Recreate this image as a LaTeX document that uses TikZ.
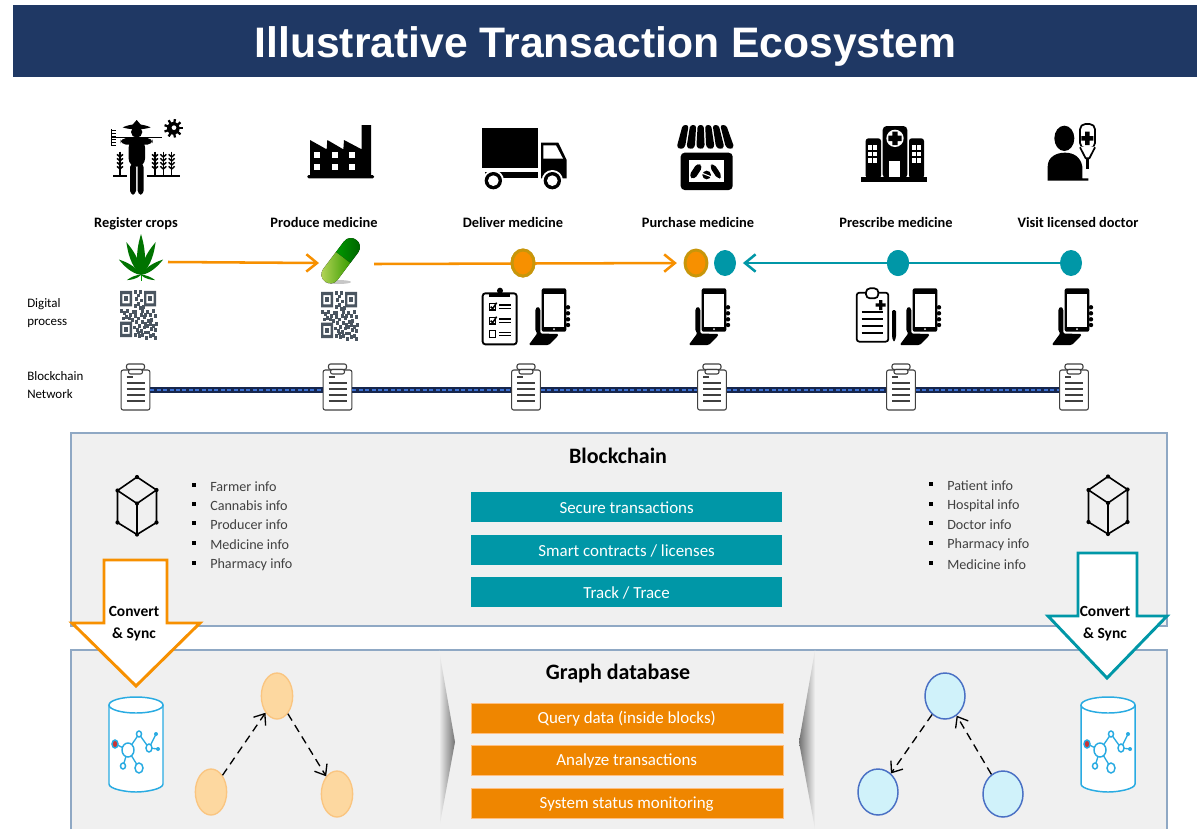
\documentclass[tikz,border=0pt]{standalone}
\usepackage{fontspec}
\setmainfont{Carlito}
\newfontfamily\titlefont{Liberation Sans}
\usetikzlibrary{arrows.meta,shapes.geometric,calc}
\definecolor{navy}{HTML}{1F3864}
\definecolor{teal}{HTML}{0097A7}
\definecolor{amber}{HTML}{F79000}
\definecolor{gold}{HTML}{C8960A}
\definecolor{barorange}{HTML}{EF8600}
\definecolor{panelfill}{HTML}{F0F0F0}
\definecolor{panelline}{HTML}{8FA8C4}
\definecolor{cylblue}{HTML}{29ABE2}
\definecolor{qrgrey}{HTML}{4A5560}
\definecolor{nodepeach}{HTML}{FDD8A0}
\definecolor{nodepeachline}{HTML}{FAC580}
\definecolor{nodesky}{HTML}{D0F2FA}
\definecolor{nodeskyline}{HTML}{4A70C4}
\definecolor{chainblue}{HTML}{3C6FD0}
\definecolor{chaininkc}{HTML}{16264D}
\newcommand{\barlabel}[1]{\raisebox{-4.3pt}[0pt][0pt]{#1}}
\tikzset{
  zoomunits/.style={x=0.25pt,y=-0.25pt},
  steplabel/.style={font=\bfseries\fontsize{10.8}{12}\selectfont,text=black,inner sep=0pt,anchor=base},
  sidelabel/.style={font=\fontsize{9.7}{13.5}\selectfont,text=black,align=left,anchor=west,inner sep=0pt},
  infotext/.style={font=\fontsize{10.6}{12}\selectfont,text=black!75,anchor=west,inner sep=0pt},
  bullet/.style={fill=black,minimum size=3.2pt,inner sep=0pt,draw=none},
  headlabel/.style={font=\bfseries\fontsize{16.5}{18}\selectfont,text=black,inner sep=0pt},
  barteal/.style={fill=teal,minimum width=233pt,minimum height=22.5pt,inner sep=0pt,text=white,font=\fontsize{12.7}{14}\selectfont},
  barorange/.style={fill=barorange,draw=orange!50,line width=0.3pt,minimum width=234pt,minimum height=22.5pt,inner sep=0pt,text=white,font=\fontsize{12.7}{14}\selectfont},
  panel/.style={fill=panelfill,draw=none},
  panelborder/.style={draw=panelline,line width=0.9pt},
  flowdot/.style={ellipse,minimum width=16.5pt,minimum height=19.5pt,inner sep=0pt},
  amberdot/.style={flowdot,fill=amber,draw=gold,line width=2.2pt},
  tealdot/.style={flowdot,fill=teal},
  amberline/.style={draw=amber,line width=1.9pt,-{Straight Barb[length=8pt,width=13pt,line width=1.9pt]}},
  tealline/.style={draw=teal,line width=1.9pt,-{Straight Barb[length=8pt,width=13pt,line width=1.9pt]}},
  graphorange/.style={ellipse,minimum width=23.5pt,minimum height=34.5pt,inner sep=0pt,fill=nodepeach,draw=nodepeachline,line width=1pt},
  graphblue/.style={ellipse,minimum width=30pt,minimum height=34.5pt,inner sep=0pt,fill=nodesky,draw=nodeskyline,line width=1.1pt},
  dasharrow/.style={draw=black,line width=1pt,dash pattern=on 6pt off 4pt,-{Straight Barb[length=7pt,width=11pt,line width=1pt]}},
  blockarrow/.style={fill=white,line width=2.2pt,miter limit=10},
  arrowtext/.style={font=\bfseries\fontsize{11.6}{16.5}\selectfont,align=center,inner sep=0pt,text=black},
  cubeline/.style={draw=black,line width=1.2pt},
  molecule/.style={draw=cylblue,line width=1pt},
  sheet/.style={draw=black!75,fill=white,line width=0.8pt,rounded corners=1.5pt},
  cliprule/.style={draw=black!75,line width=0.8pt},
  chaindark/.style={draw=chaininkc,line width=5pt},
  chainlink/.style={draw=chainblue,line width=1.8pt,dash pattern=on 3pt off 1.8pt},
  clipsheet/.pic={
    \node[sheet,minimum width=21.5pt,minimum height=30pt,inner sep=0pt] (body) at (0,0) {};
    \draw[sheet] (-9,-26) rectangle (9,-20.5) ;
    \draw[sheet] (-7,-20.5) rectangle (7,-16);
    \draw[cliprule] (-9,-13)--(-3,-13) (-9,-7)--(9,-7) (-9,-1)--(9,-1) (-9,5)--(9,5) (-9,11)--(9,11);
  },
  qrcode/.pic={
    \begin{scope}[fill=qrgrey,yscale=1.28]
      \foreach \fx/\fy in {-18/-18,6/-18,-18/6}{
        \fill[even odd rule] (\fx,\fy) rectangle ++(12,12) (\fx+2.4,\fy+2.4) rectangle ++(7.2,7.2);
        \fill (\fx+4,\fy+4) rectangle ++(4,4);}
      \foreach \mx/\my in {-4/-19,-1/-16,1/-19,-3/-13,2/-12,-1/-9,-4/-8,1/-6,3/-4,-18/-4,-15/-2,-12/-4,-9/-1,-13/1,-6/-3,-4/0,-1/2,2/-1,5/1,8/-3,11/-1,14/-4,16/0,12/3,9/4,6/6,3/5,0/8,-3/5,-5/9,-2/11,2/12,5/9,8/8,11/6,14/8,17/6,16/11,12/10,9/13,6/13,3/15,0/16,-4/15,-1/13,14/15,11/16,7/17,16/17,-4/-3,-7/3,-16/2,-10/2,6/-1,4/-7}{
        \fill (\mx,\my) rectangle ++(3,3);}
    \end{scope}
  },
  handphone/.pic={
    \fill[black,rounded corners=1.5pt] (-12.3,-21.7) rectangle (12.3,21.7);
    \fill[white] (-9.7,-16) rectangle (9.7,16.7);
    \fill[white] (0,19.2) circle (1);
    \fill[black,rounded corners=1pt] (-25.3,35)--(-16.5,23)--(-18.7,21)--(-18.7,-1)--(-16,-3.5)--(-13.7,-1)--(-13.7,23.5)--(4.7,24)--(3,27)--(-5.3,35)--cycle;
    \foreach \fy in {-2.7,3.3,9.3,15}{\fill[black] (14,\fy) circle (2.2);}
  },
  datacyl/.pic={
    \draw[draw=cylblue,fill=white,line width=1.1pt] (-27,-39) -- (-27,40) .. controls (-27,45) and (-10,48) .. (0,48) .. controls (10,48) and (27,45) .. (27,40) -- (27,-39);
    \draw[draw=cylblue,fill=white,line width=1.1pt] (0,-39) ellipse (27 and 8);
    \draw[molecule] (-21,0)--(-8,6) (-8,6)--(3,-10) (3,-10)--(13,4) (13,4)--(20,-10) (13,4)--(22,5) (-8,6)--(-13,22) (-8,6)--(3,24);
    \fill[fill=white,draw=cylblue,line width=1.1pt] (-8,6) ellipse (6 and 7);
    \fill[fill=white,draw=cylblue,line width=1.1pt] (3,-10) ellipse (2.5 and 3);
    \fill[fill=white,draw=cylblue,line width=1.1pt] (13,4) ellipse (3 and 4);
    \fill[fill=cylblue] (20,-10) circle (2);
    \fill[fill=cylblue] (22,5) circle (2);
    \fill[fill=white,draw=cylblue,line width=1.1pt] (-13,22) ellipse (2.5 and 3);
    \fill[fill=white,draw=cylblue,line width=1.1pt] (3,24) ellipse (4 and 5);
    \fill[fill=red!60!gray,draw=cylblue,line width=1.1pt] (-21,0) ellipse (3 and 4);
  },
  cubeicon/.pic={
    \draw[cubeline] (0,-28.5)--(-19.5,-15)--(0,-2)--(19.5,-15.5)--cycle;
    \draw[cubeline] (-19.5,-15)--(-19.5,17)--(0,29)--(19.5,17)--(19.5,-15.5) (0,-2)--(0,29);
    \foreach \cx/\cy in {0/-28.5,-19.5/-15,19.5/-15.5,0/-2,-19.5/17,19.5/17,0/29}{\fill[black] (\cx,\cy) circle (2.1);}
  },
}
\begin{document}
\begin{tikzpicture}[x=0.75pt,y=-0.75pt,line join=miter]
\useasboundingbox (0,0) rectangle (1198,829);
\fill[white] (0,0) rectangle (1198,829);

% title
\node[fill=navy,minimum width=888pt,minimum height=54pt,inner sep=0pt,anchor=north west] (banner) at (13,5) {};
\node[text=white,inner sep=0pt,anchor=base,font=\titlefont\bfseries\fontsize{32}{36}\selectfont] (title) at (605.5,57) {Illustrative Transaction Ecosystem};

% farmer
\begin{scope}[shift={(90,110)},zoomunits]
  \fill (140,66) circle (17);
  \fill (98,52) .. controls (125,40) and (155,40) .. (182,52) .. controls (160,60) and (120,60) .. (98,52) -- cycle;
  \fill (126,46) -- (140,30) -- (154,46) -- cycle;
  \fill[rounded corners=4pt] (92,84) rectangle (188,104);
  \fill[rounded corners=6pt] (116,88) rectangle (165,170);
  \fill[rounded corners=3pt] (120,160) rectangle (138,254);
  \fill[rounded corners=3pt] (143,160) rectangle (161,254);
  \draw[line width=1.2pt] (65,82) -- (215,82);
  \draw[line width=1.1pt] (65,58) -- (65,107);
  \foreach \ty in {60,69,78,87,96,105}{\draw[line width=0.7pt] (65,\ty)--(79,\ty);}
  \foreach \wx in {90,195,220,245}{
    \draw[line width=0.9pt] (\wx,125)--(\wx,200);
    \foreach \wy in {133,145,157,169}{\draw[line width=1.1pt] (\wx-9,\wy)--(\wx,\wy+8)--(\wx+9,\wy);}
  }
  \draw[line width=1.6pt] (70,199)--(110,199) (170,199)--(271,199);
  \fill (250,55) circle (19);
  \fill[white] (252,53) circle (7);
  \foreach \ga in {0,40,...,320}{\draw[line width=1.7pt] (250,55) ++(\ga:16) -- ++(\ga:12);}
\end{scope}

% factory
\begin{scope}[shift={(90,110)},zoomunits]
  \fill (660,195)--(660,90)--(710,118)--(712,90)--(760,118)--(762,90)--(815,118)--(815,45)--(843,45)--(843,195)--cycle;
  \fill[rounded corners=1pt] (652,195) rectangle (852,205);
  \foreach \wx in {680,735,785}{\foreach \wy in {135,172}{\fill[white] (\wx-9,\wy-9) rectangle (\wx+9,\wy+9);}}
\end{scope}

% truck
\begin{scope}[shift={(460,110)},zoomunits]
  \fill (65,55) rectangle (235,175);
  \fill (75,185) rectangle (235,205);
  \fill (243,98)--(295,98)--(320,150)--(320,205)--(243,205)--cycle;
  \fill[white] (250,106)--(288,106)--(309,146)--(250,146)--cycle;
  \foreach \tx in {100,277}{\fill[white] (\tx,212) circle (32); \fill (\tx,212) circle (26); \fill[white] (\tx,212) circle (16);}
\end{scope}

% shop
\begin{scope}[shift={(460,110)},zoomunits]
  \foreach \si in {0,...,5}{
    \fill[rounded corners=2pt] ({668+\si*22.5},45)--({686+\si*22.5},45)--({675+\si*29.5},112)--({663+\si*29.5},118)--({650+\si*29.5},112)--cycle;}
  \fill[rounded corners=3pt] (662,128) rectangle (818,240);
  \fill[white] (688,150) rectangle (792,215);
  \fill[rotate around={-33:(708,183)},rounded corners=3pt] (698,160) rectangle (718,208);
  \fill[rotate around={33:(768,185)},rounded corners=3pt] (760,160) rectangle (776,208);
  \fill (740,195) circle (13);
  \draw[white,line width=0.8pt] (727,190)--(753,200);
\end{scope}

% hospital
\begin{scope}[shift={(820,110)},zoomunits]
  \fill[rounded corners=3pt] (188,48) rectangle (262,205);
  \fill[rounded corners=2pt] (137,85) rectangle (183,205);
  \fill[rounded corners=2pt] (267,85) rectangle (312,205);
  \fill (122,200) rectangle (322,217);
  \fill[white] (225,85) circle (26);
  \fill (217,65) rectangle (233,105) (205,77) rectangle (245,93);
  \fill[white] (208,152) rectangle (240,200);
  \foreach \hx in {144,160}{\foreach \hy in {106,125,145}{\fill[white] (\hx,\hy) rectangle ++(12,14);}}
  \foreach \hx in {276,292}{\foreach \hy in {106,125,145}{\fill[white] (\hx,\hy) rectangle ++(12,14);}}
\end{scope}

% patient
\begin{scope}[shift={(820,110)},zoomunits]
  \fill (733,85) ellipse (30 and 38);
  \fill (683,212) -- (683,170) .. controls (683,140) and (710,128) .. (735,128) .. controls (760,128) and (782,140) .. (787,170) -- (787,205) -- (805,205) -- (805,212) -- cycle;
  \draw[line width=1.3pt,fill=white,rounded corners=4pt] (780,42) rectangle (825,115);
  \fill[white] (780,110)--(825,110)--(808,145)--(797,145)--cycle;
  \draw[line width=1.3pt] (780,112)--(797,145)--(808,145)--(825,112);
  \draw[line width=1.8pt] (802,145)--(802,178);
  \fill (795,65) rectangle (809,105) (784,78) rectangle (820,92);
\end{scope}

% labels row
\node[steplabel] (l1) at (136,227.5) {Register crops};
\node[steplabel] (l2) at (324,227.5) {Produce medicine};
\node[steplabel] (l3) at (513,227.5) {Deliver medicine};
\node[steplabel] (l4) at (698,227.5) {Purchase medicine};
\node[steplabel] (l5) at (896,227.5) {Prescribe medicine};
\node[steplabel] (l6) at (1078,227.5) {Visit licensed doctor};

% leaf
\begin{scope}[shift={(141,275)}]
  \foreach \la/\lw/\ls in {0/1/41,-24/0.85/36,24/0.85/36,-55/0.65/27,55/0.65/27,-110/0.35/15,110/0.35/15}{
    \begin{scope}[rotate=\la]
      \fill[green!45!black] (0,0) .. controls (-7*\lw,-\ls*0.35) and (-3*\lw,-\ls*0.75) .. (0,-\ls) .. controls (3*\lw,-\ls*0.75) and (7*\lw,-\ls*0.35) .. (0,0) -- cycle;
    \end{scope}}
  \draw[green!60!black,line width=0.5pt] (0,0) -- (0,6);
\end{scope}

% pill
\fill[black!22] (338,282) ellipse (13 and 2);
\begin{scope}[shift={(340.7,260.7)},rotate=-37]
  \fill[left color=green!60!black,right color=green!35!black] (-9,-4) -- (-9,-17) .. controls (-9,-29) and (9,-29) .. (9,-17) -- (9,-4) -- cycle;
  \fill[left color=lime!55!olive!60!white,right color=green!45!black!70!lime] (-9,-4) -- (-9,17) .. controls (-9,29) and (9,29) .. (9,17) -- (9,-4) -- cycle;
\end{scope}

% flow row
\coordinate (leafend) at (168,262);
\coordinate (pillin) at (319,263);
\coordinate (pillout) at (374,264);
\node[amberdot] (d1) at (523,263) {};
\node[amberdot] (d2) at (696,263) {};
\node[tealdot] (d3) at (725,263) {};
\node[tealdot] (d4) at (898,263) {};
\node[tealdot] (d5) at (1071,263) {};
\draw[amberline] (leafend) -- (pillin);
\draw[amberline,shorten >=5pt] (pillout) -- (d2.west);
\draw[tealline,shorten >=5pt] (d5.west) -- (d3.east);
\node[amberdot] at (d1) {};
\node[tealdot] at (d4) {};

% digital row
\node[sidelabel] (s1) at (27,313) {Digital\\process};
\node[sidelabel] (s2) at (27,385) {Blockchain\\Network};
\pic at (138,314) {qrcode};
\pic at (339,315) {qrcode};
\pic at (554,310) {handphone};
\pic at (714,310) {handphone};
\pic at (925,310) {handphone};
\pic at (1077,310) {handphone};

% checklist
\begin{scope}[shift={(460,110)},zoomunits]
  \draw[line width=1.4pt,rounded corners=2pt,fill=white] (68,550) rectangle (170,703);
  \fill (88,548) rectangle (150,561);
  \fill (120,542) circle (9);
  \foreach \ry in {590,632,672}{
    \draw[line width=0.9pt] (88,\ry-10) rectangle (106,\ry+10);
    \draw[line width=1pt] (118,\ry-5)--(152,\ry-5) (118,\ry+5)--(152,\ry+5);}
  \draw[line width=1.1pt] (92,590)--(98,596)--(110,578);
  \draw[line width=1.1pt] (92,632)--(98,638)--(110,620);
\end{scope}

% prescription
\begin{scope}[shift={(820,110)},zoomunits]
  \draw[line width=1.3pt,rounded corners=2pt,fill=white] (110,548) rectangle (205,695);
  \draw[line width=1.3pt,rounded corners=3pt,fill=white] (138,535) rectangle (175,565);
  \fill (177,570) rectangle (187,600) (167,580) rectangle (197,590);
  \foreach \py in {607,627,648,668}{\draw[line width=1.3pt] (125,\py)--(190,\py);}
  \fill[rounded corners=1pt] (216,600) -- (228,600) -- (228,682) -- (222,697) -- (216,682) -- cycle;
\end{scope}

% chain row
\pic (c1) at (135.5,390) {clipsheet};
\pic (c2) at (337.5,390) {clipsheet};
\pic (c3) at (526,390) {clipsheet};
\pic (c4) at (712,390) {clipsheet};
\pic (c5) at (901,390) {clipsheet};
\pic (c6) at (1074,390) {clipsheet};
\foreach \ca/\cb in {c1/c2,c2/c3,c3/c4,c4/c5,c5/c6}{
  \draw[chaindark] (\ca body) -- (\cb body);
  \draw[chainlink] (\ca body) -- (\cb body);
}

% blockchain panel
\fill[panel] (71,433) rectangle (1167,626);
\draw[panelborder] (71,433) rectangle (1167,626);
\node[headlabel] (h1) at (618,456) {Blockchain};
\node[barteal,anchor=north west] (t1) at (471,492) {\barlabel{Secure transactions}};
\node[barteal,anchor=north west] (t2) at (471,535) {\barlabel{Smart contracts / licenses}};
\node[barteal,anchor=north west] (t3) at (471,577) {\barlabel{Track / Trace}};
\pic at (137,505.5) {cubeicon};
\pic at (1108,505) {cubeicon};
\foreach \by/\bt in {487/Farmer info,506/Cannabis info,525/Producer info,545/Medicine info,565/Pharmacy info}{
  \node[bullet] at (194,\by-2) {};
  \node[infotext] at (210,\by) {\bt};
}
\foreach \by/\bt in {486/Patient info,506/Hospital info,525/Doctor info,545/Pharmacy info,565/Medicine info}{
  \node[bullet] at (931,\by-2) {};
  \node[infotext] at (947,\by) {\bt};
}

% graph panel
\fill[panel] (71,650) rectangle (1167,829);
\draw[panelborder] (71,829) -- (71,650) -- (1167,650) -- (1167,829);
\shade[left color=panelfill,right color=black!55] (439,650) -- (455,742) -- (439,829) -- cycle;
\shade[right color=panelfill,left color=black!55] (815,650) -- (799,742) -- (815,829) -- cycle;
\node[headlabel] (h2) at (618,673) {Graph database};
\node[barorange,anchor=north west] (o1) at (470.5,703) {\barlabel{Query data (inside blocks)}};
\node[barorange,anchor=north west] (o2) at (470.5,745) {\barlabel{Analyze transactions}};
\node[barorange,anchor=north west] (o3) at (470.5,787.5) {\barlabel{System status monitoring}};

\pic at (136,744) {datacyl};
\pic at (1108,744) {datacyl};

\node[graphorange] (ga) at (277,696) {};
\node[graphorange] (gb) at (211,792) {};
\node[graphorange] (gc) at (337,794) {};
\draw[dasharrow] (gb) -- (ga);
\draw[dasharrow] (ga) -- (gc);
\node[graphblue] (ba) at (945,696) {};
\node[graphblue] (bb) at (878,792) {};
\node[graphblue] (bc) at (1003,794) {};
\draw[dasharrow] (ba) -- (bb);
\draw[dasharrow] (bc) -- (ba);

% block arrows
\draw[blockarrow,draw=amber] (104,560)--(167,560)--(167,623)--(200,623)--(136,686)--(72,623)--(104,623)--cycle;
\node[arrowtext] (a1) at (134,624) {Convert\\\& Sync};
\draw[blockarrow,draw=teal] (1078,553)--(1137,553)--(1137,616)--(1167,616)--(1107,678)--(1048,616)--(1078,616)--cycle;
\node[arrowtext] (a2) at (1105,624) {Convert\\\& Sync};
\end{tikzpicture}
\end{document}
